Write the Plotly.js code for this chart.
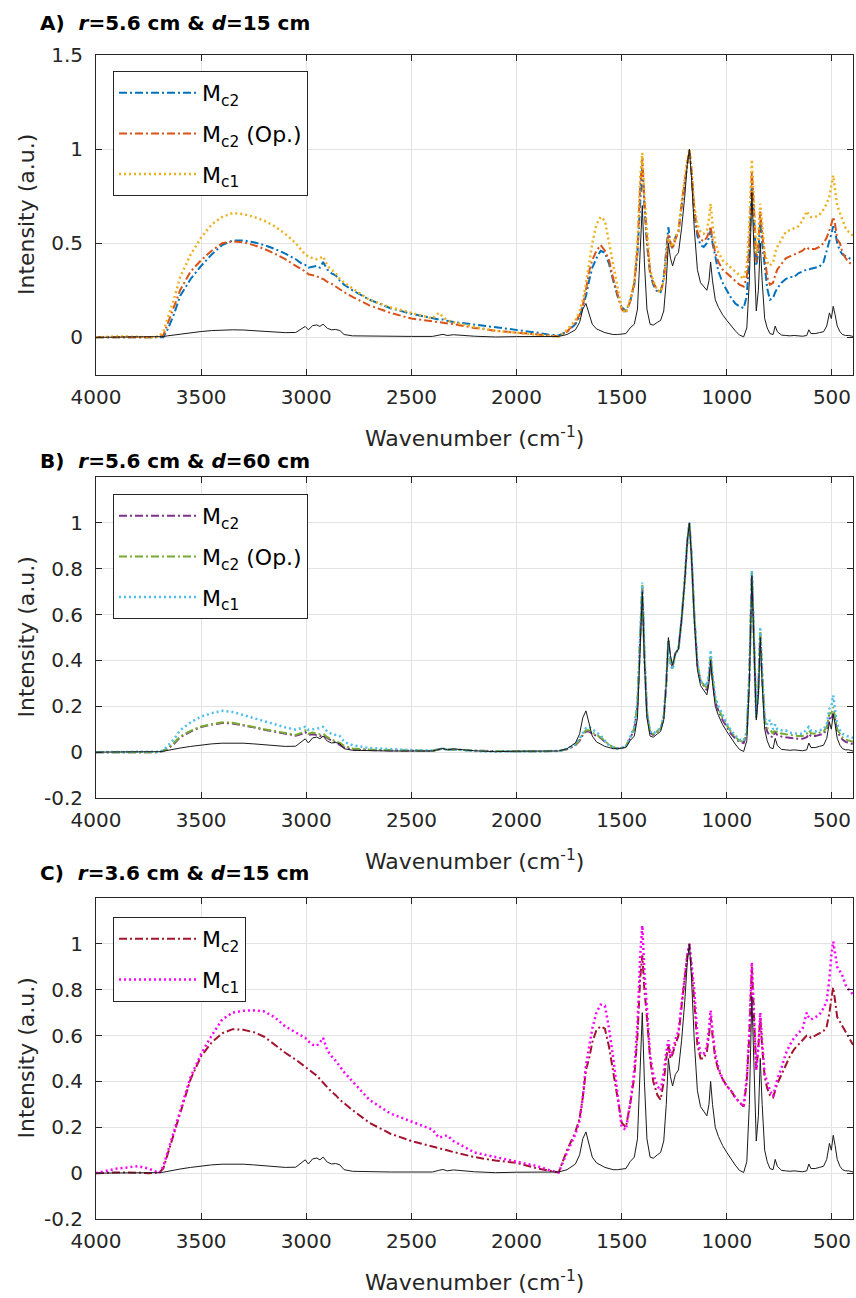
<!DOCTYPE html>
<html><head><meta charset="utf-8">
<script src="https://cdn.plot.ly/plotly-3.0.1.min.js"></script>
<style>html,body{margin:0;padding:0;background:#fff}#chart{width:856px;height:1298px}</style>
</head><body><div id="chart"></div>
<script>
const wavenumber = [
4000,3900,3800,3750,3700,3680,3660,3630,3600,3550,
3500,3450,3400,3350,3300,3250,3200,3150,3100,3050,
3020,3005,2990,2970,2950,2935,2920,2900,2880,2860,
2840,2820,2780,2700,2600,2500,2400,2370,2350,2330,
2300,2200,2100,2000,1900,1850,1800,1760,1720,1700,
1685,1670,1655,1640,1620,1600,1580,1560,1540,1520,
1500,1480,1460,1440,1425,1412,1402,1392,1380,1365,
1350,1330,1315,1300,1288,1278,1268,1258,1245,1230,
1215,1200,1188,1178,1168,1155,1140,1125,1110,1095,
1085,1077,1068,1055,1040,1020,1000,980,960,940,
920,905,893,881,870,860,850,841,832,820,
808,795,780,770,760,740,720,700,680,660,
640,620,610,600,580,560,540,525,512,503,
494,485,475,462,450,435,420,400];

const reference = [
0,0,0,0,0.002,0.004,0.008,0.013,0.018,0.025,
0.031,0.036,0.039,0.04,0.039,0.036,0.032,0.028,0.025,0.026,
0.045,0.058,0.04,0.062,0.066,0.058,0.07,0.048,0.04,0.042,
0.036,0.015,0.008,0.006,0.005,0.005,0.005,0.012,0.016,0.01,
0.014,0.006,0.002,0.004,0.003,0.003,0.005,0.015,0.04,0.08,
0.15,0.18,0.13,0.07,0.045,0.035,0.025,0.02,0.015,0.015,
0.017,0.02,0.05,0.07,0.15,0.45,0.70,0.4,0.15,0.07,
0.065,0.08,0.09,0.14,0.3,0.5,0.42,0.38,0.43,0.45,
0.58,0.75,0.92,1.0,0.85,0.58,0.36,0.29,0.27,0.25,
0.3,0.4,0.3,0.2,0.16,0.12,0.09,0.06,0.035,0.012,
0.003,0.05,0.3,0.77,0.45,0.14,0.25,0.5,0.3,0.1,
0.05,0.02,0.015,0.06,0.03,0.012,0.01,0.008,0.01,0.008,
0.006,0.01,0.04,0.02,0.02,0.025,0.03,0.06,0.13,0.1,
0.165,0.12,0.06,0.03,0.015,0.01,0.01,0.005];

const panelA_Mc2 = [
0,0,0,0,0,0,0.04,0.12,0.22,0.31,
0.38,0.44,0.49,0.515,0.515,0.505,0.49,0.47,0.445,0.415,
0.39,0.385,0.37,0.375,0.38,0.37,0.4,0.36,0.34,0.33,
0.3,0.28,0.25,0.2,0.155,0.125,0.1,0.095,0.095,0.088,
0.082,0.068,0.055,0.04,0.025,0.015,0.01,0.03,0.07,0.11,
0.16,0.22,0.3,0.37,0.42,0.46,0.45,0.39,0.3,0.22,
0.16,0.14,0.19,0.28,0.45,0.75,0.92,0.7,0.5,0.34,
0.28,0.24,0.24,0.32,0.45,0.585,0.5,0.47,0.53,0.56,
0.7,0.82,0.94,1.0,0.88,0.66,0.54,0.49,0.48,0.5,
0.53,0.57,0.5,0.42,0.35,0.29,0.25,0.21,0.18,0.165,
0.155,0.22,0.45,0.82,0.62,0.38,0.45,0.62,0.5,0.38,
0.26,0.2,0.21,0.24,0.26,0.29,0.31,0.32,0.32,0.34,
0.35,0.36,0.36,0.365,0.37,0.375,0.4,0.46,0.5,0.55,
0.59,0.56,0.5,0.46,0.44,0.43,0.42,0.41];

const panelA_Mc2Op = [
0,0.002,0,0,0.003,0.01,0.07,0.16,0.25,0.35,
0.41,0.46,0.5,0.51,0.505,0.49,0.47,0.445,0.415,0.38,
0.36,0.35,0.335,0.33,0.325,0.315,0.31,0.295,0.285,0.27,
0.255,0.24,0.215,0.17,0.13,0.1,0.085,0.08,0.08,0.075,
0.07,0.05,0.035,0.025,0.015,0.008,0.005,0.03,0.08,0.12,
0.17,0.25,0.35,0.41,0.46,0.49,0.46,0.41,0.31,0.23,
0.15,0.13,0.19,0.29,0.47,0.8,0.95,0.72,0.52,0.35,
0.29,0.25,0.24,0.3,0.42,0.55,0.5,0.47,0.52,0.56,
0.7,0.82,0.94,1.0,0.88,0.68,0.56,0.52,0.51,0.53,
0.56,0.59,0.52,0.45,0.4,0.36,0.34,0.32,0.3,0.28,
0.27,0.32,0.5,0.88,0.66,0.4,0.5,0.67,0.55,0.42,
0.32,0.28,0.29,0.33,0.36,0.39,0.42,0.43,0.44,0.45,
0.46,0.48,0.47,0.47,0.47,0.48,0.5,0.53,0.57,0.6,
0.64,0.6,0.52,0.5,0.45,0.42,0.4,0.38];

const panelA_Mc1 = [
0,0.005,0.003,0,0.005,0.03,0.1,0.2,0.32,0.44,
0.53,0.6,0.64,0.66,0.655,0.64,0.62,0.59,0.55,0.5,
0.46,0.44,0.43,0.42,0.415,0.42,0.43,0.38,0.36,0.34,
0.31,0.29,0.26,0.2,0.16,0.13,0.1,0.13,0.11,0.09,
0.08,0.055,0.035,0.025,0.012,0.006,0.003,0.04,0.09,0.14,
0.2,0.28,0.38,0.5,0.6,0.64,0.62,0.5,0.37,0.25,
0.15,0.13,0.2,0.3,0.5,0.85,0.98,0.75,0.55,0.36,
0.3,0.25,0.24,0.3,0.42,0.53,0.5,0.48,0.53,0.57,
0.72,0.84,0.95,1.0,0.9,0.7,0.6,0.56,0.55,0.57,
0.63,0.71,0.6,0.5,0.45,0.41,0.39,0.37,0.35,0.33,
0.31,0.38,0.6,0.945,0.7,0.45,0.55,0.71,0.6,0.45,
0.4,0.38,0.4,0.45,0.48,0.52,0.56,0.57,0.58,0.59,
0.62,0.67,0.65,0.64,0.64,0.65,0.68,0.71,0.75,0.8,
0.86,0.78,0.7,0.66,0.62,0.58,0.56,0.54];

const panelB_Mc2 = [
0,0,0,0,0,0.005,0.015,0.035,0.065,0.09,
0.11,0.12,0.127,0.125,0.118,0.108,0.098,0.09,0.08,0.072,
0.08,0.088,0.075,0.078,0.075,0.07,0.074,0.06,0.05,0.042,
0.03,0.02,0.012,0.009,0.007,0.006,0.005,0.012,0.015,0.01,
0.012,0.006,0.004,0.004,0.004,0.004,0.005,0.012,0.03,0.05,
0.075,0.09,0.09,0.08,0.072,0.062,0.045,0.03,0.02,0.016,
0.018,0.025,0.06,0.1,0.2,0.5,0.72,0.42,0.17,0.085,
0.075,0.09,0.1,0.15,0.3,0.49,0.4,0.37,0.43,0.45,
0.58,0.75,0.92,1.0,0.86,0.6,0.38,0.31,0.29,0.27,
0.32,0.41,0.32,0.22,0.18,0.14,0.11,0.08,0.06,0.045,
0.04,0.08,0.32,0.78,0.46,0.15,0.27,0.52,0.33,0.13,
0.09,0.07,0.065,0.09,0.075,0.068,0.065,0.062,0.06,0.058,
0.058,0.065,0.08,0.07,0.07,0.075,0.08,0.1,0.15,0.14,
0.17,0.14,0.09,0.07,0.055,0.045,0.04,0.035];

const panelB_Mc2Op = [
0,0,0,0,0,0.006,0.018,0.04,0.068,0.093,
0.112,0.122,0.13,0.128,0.12,0.11,0.1,0.092,0.082,0.075,
0.085,0.095,0.08,0.085,0.08,0.078,0.08,0.065,0.055,0.048,
0.04,0.028,0.016,0.011,0.008,0.007,0.006,0.013,0.016,0.011,
0.012,0.006,0.004,0.004,0.004,0.004,0.005,0.013,0.032,0.055,
0.08,0.095,0.095,0.085,0.075,0.065,0.048,0.032,0.021,0.016,
0.018,0.025,0.062,0.105,0.21,0.51,0.73,0.43,0.175,0.088,
0.078,0.092,0.102,0.155,0.3,0.49,0.39,0.365,0.43,0.45,
0.58,0.75,0.92,1.0,0.86,0.6,0.385,0.31,0.295,0.28,
0.33,0.42,0.33,0.23,0.19,0.15,0.118,0.088,0.066,0.05,
0.045,0.085,0.33,0.785,0.47,0.155,0.275,0.53,0.34,0.14,
0.105,0.1,0.08,0.1,0.085,0.08,0.078,0.075,0.072,0.07,
0.07,0.08,0.095,0.082,0.08,0.085,0.09,0.11,0.17,0.17,
0.196,0.15,0.1,0.08,0.065,0.055,0.05,0.045];

const panelB_Mc1 = [
0,0,0,0,0.002,0.008,0.025,0.055,0.095,0.13,
0.155,0.17,0.18,0.175,0.162,0.148,0.135,0.122,0.108,0.098,
0.105,0.11,0.097,0.1,0.1,0.105,0.11,0.09,0.08,0.075,
0.07,0.045,0.03,0.018,0.012,0.009,0.007,0.013,0.016,0.01,
0.012,0.005,0.002,0.003,0.003,0.003,0.005,0.015,0.035,0.06,
0.085,0.105,0.11,0.1,0.085,0.073,0.05,0.03,0.02,0.016,
0.018,0.025,0.065,0.11,0.22,0.52,0.74,0.44,0.18,0.09,
0.08,0.095,0.105,0.16,0.3,0.48,0.38,0.36,0.43,0.45,
0.58,0.75,0.92,1.0,0.86,0.6,0.39,0.31,0.3,0.29,
0.35,0.445,0.34,0.24,0.2,0.16,0.125,0.095,0.072,0.055,
0.05,0.09,0.34,0.79,0.48,0.16,0.28,0.546,0.35,0.15,
0.12,0.14,0.1,0.12,0.1,0.095,0.095,0.085,0.082,0.08,
0.08,0.1,0.11,0.095,0.09,0.095,0.1,0.12,0.19,0.2,
0.248,0.18,0.12,0.095,0.08,0.072,0.068,0.062];

const panelC_Mc2 = [
0,0.003,0.002,0,0.002,0.02,0.08,0.17,0.27,0.41,
0.51,0.57,0.61,0.628,0.625,0.615,0.595,0.56,0.525,0.495,
0.475,0.465,0.455,0.44,0.425,0.41,0.395,0.375,0.355,0.34,
0.32,0.305,0.275,0.22,0.172,0.14,0.118,0.11,0.105,0.1,
0.092,0.07,0.055,0.045,0.02,0.01,0.003,0.1,0.18,0.24,
0.33,0.45,0.5,0.57,0.625,0.64,0.63,0.55,0.43,0.33,
0.22,0.2,0.3,0.42,0.6,0.85,0.95,0.8,0.68,0.5,
0.4,0.34,0.32,0.4,0.5,0.56,0.5,0.52,0.56,0.6,
0.73,0.85,0.95,1.0,0.9,0.75,0.56,0.5,0.5,0.53,
0.6,0.68,0.6,0.5,0.45,0.41,0.38,0.36,0.33,0.31,
0.29,0.4,0.6,0.9,0.65,0.45,0.55,0.68,0.55,0.42,
0.37,0.34,0.33,0.36,0.39,0.43,0.47,0.51,0.54,0.56,
0.58,0.6,0.6,0.59,0.6,0.61,0.62,0.64,0.7,0.76,
0.81,0.75,0.68,0.66,0.64,0.62,0.59,0.56];

const panelC_Mc1 = [
0,0.02,0.03,0.02,0,0.03,0.09,0.18,0.28,0.42,
0.52,0.6,0.67,0.7,0.708,0.71,0.705,0.68,0.64,0.615,
0.6,0.59,0.575,0.56,0.555,0.57,0.59,0.535,0.51,0.49,
0.465,0.44,0.4,0.32,0.26,0.225,0.19,0.155,0.16,0.165,
0.14,0.09,0.07,0.05,0.03,0.015,0.003,0.09,0.17,0.23,
0.33,0.47,0.55,0.63,0.7,0.735,0.73,0.63,0.5,0.36,
0.2,0.19,0.3,0.45,0.65,0.95,1.08,0.88,0.72,0.52,
0.43,0.38,0.36,0.44,0.53,0.58,0.51,0.53,0.58,0.62,
0.74,0.86,0.95,1.0,0.9,0.8,0.6,0.52,0.52,0.55,
0.63,0.71,0.62,0.52,0.46,0.41,0.38,0.36,0.33,0.31,
0.29,0.42,0.62,0.92,0.65,0.45,0.55,0.7,0.57,0.43,
0.4,0.36,0.335,0.38,0.41,0.46,0.52,0.56,0.59,0.61,
0.63,0.7,0.68,0.67,0.68,0.69,0.72,0.75,0.85,0.95,
1.01,0.95,0.9,0.88,0.86,0.82,0.8,0.78];

const xTickVals = [4000,3500,3000,2500,2000,1500,1000,500];
const xTickText = ['4000','3500','3000','2500','2000','1500','1000','500'];
const yTickValsA = [0,0.5,1,1.5];
const yTickTextA = ['0','0.5','1','1.5'];
const yTickValsBC = [-0.2,0,0.2,0.4,0.6,0.8,1];
const yTickTextBC = ['-0.2','0','0.2','0.4','0.6','0.8','1'];
const panelTitles = [
  '<b>A)\u00a0\u00a0<i>r</i>=5.6 cm &amp; <i>d</i>=15 cm</b>',
  '<b>B)\u00a0\u00a0<i>r</i>=5.6 cm &amp; <i>d</i>=60 cm</b>',
  '<b>C)\u00a0\u00a0<i>r</i>=3.6 cm &amp; <i>d</i>=15 cm</b>'];
const nameMc2 = 'M<sub>c2</sub>';
const nameMc2Op = 'M<sub>c2</sub> (Op.)';
const nameMc1 = 'M<sub>c1</sub>';

const DASHDOT = '8px,3px,2px,3px';
const DOT = '2px,3px';
const FONT = 'DejaVu Sans, Arial, sans-serif';
const TXT = '#262626';

function series(y, name, color, dash, width, n, legendId, show, group) {
  return {
    type: 'scatter', mode: 'lines', x: wavenumber, y: y, name: name,
    line: {color: color, dash: dash, width: width},
    xaxis: n === 1 ? 'x' : 'x' + n, yaxis: n === 1 ? 'y' : 'y' + n,
    legend: legendId, showlegend: show, legendgroup: group, hoverinfo: 'skip'
  };
}

const traces = [
  series(panelA_Mc2, nameMc2, '#0072BD', DASHDOT, 2, 1, 'legend', true, 'a1'),
  series(panelA_Mc2Op, nameMc2Op, '#D95319', DASHDOT, 2, 1, 'legend', true, 'a2'),
  series(panelA_Mc1, nameMc1, '#EDB120', DOT, 2.5, 1, 'legend', true, 'a3'),
  series(reference, 'ref', '#1a1a1a', 'solid', 1, 1, 'legend', false, 'a0'),
  series(panelB_Mc2, nameMc2, '#7E2F8E', DASHDOT, 2, 2, 'legend2', true, 'b1'),
  series(panelB_Mc2Op, nameMc2Op, '#77AC30', DASHDOT, 2, 2, 'legend2', true, 'b2'),
  series(panelB_Mc1, nameMc1, '#4DBEEE', DOT, 2.5, 2, 'legend2', true, 'b3'),
  series(reference, 'ref', '#1a1a1a', 'solid', 1, 2, 'legend2', false, 'b0'),
  series(panelC_Mc2, nameMc2, '#A2142F', DASHDOT, 2, 3, 'legend3', true, 'c1'),
  series(panelC_Mc1, nameMc1, '#FF00FF', DOT, 2.5, 3, 'legend3', true, 'c3'),
  series(reference, 'ref', '#1a1a1a', 'solid', 1, 3, 'legend3', false, 'c0')
];

const H = 1298, W = 856;
const xDom = [96 / W, 853 / W];
function yDom(top, bottom) { return [1 - bottom / H, 1 - top / H]; }
const panels = [
  {top: 55, bottom: 375, range: [-0.2, 1.5], tv: yTickValsA, tt: yTickTextA},
  {top: 477, bottom: 798, range: [-0.2, 1.2], tv: yTickValsBC, tt: yTickTextBC},
  {top: 898, bottom: 1219, range: [-0.2, 1.2], tv: yTickValsBC, tt: yTickTextBC}
];

const layout = {
  width: W, height: H, margin: {l: 0, r: 0, t: 0, b: 0},
  paper_bgcolor: '#ffffff', plot_bgcolor: '#ffffff',
  font: {family: FONT, color: TXT, size: 20},
  showlegend: true, annotations: []
};

panels.forEach((p, i) => {
  const n = i + 1;
  const xk = n === 1 ? 'xaxis' : 'xaxis' + n;
  const yk = n === 1 ? 'yaxis' : 'yaxis' + n;
  const ya = n === 1 ? 'y' : 'y' + n;
  const xa = n === 1 ? 'x' : 'x' + n;
  layout[xk] = {
    domain: xDom, anchor: ya, range: [4000, 400], autorange: false,
    tickmode: 'array', tickvals: xTickVals, ticktext: xTickText,
    ticks: 'inside', ticklen: 6, tickcolor: TXT, tickwidth: 1,
    showline: true, linecolor: TXT, linewidth: 1, mirror: 'ticks',
    showgrid: true, gridcolor: '#e3e3e3', gridwidth: 1, zeroline: false,
    tickfont: {family: FONT, size: 20, color: TXT}, ticklabelstandoff: 4
  };
  layout[yk] = {
    domain: yDom(p.top, p.bottom), anchor: xa, range: p.range, autorange: false,
    tickmode: 'array', tickvals: p.tv, ticktext: p.tt,
    ticks: 'inside', ticklen: 6, tickcolor: TXT, tickwidth: 1,
    showline: true, linecolor: TXT, linewidth: 1, mirror: 'ticks',
    showgrid: true, gridcolor: '#e3e3e3', gridwidth: 1, zeroline: false,
    tickfont: {family: FONT, size: 20, color: TXT}, ticklabelstandoff: 8
  };
  const legKey = n === 1 ? 'legend' : 'legend' + n;
  const legTop = [71, 494, 917][i];
  layout[legKey] = {
    x: 113 / W, y: 1 - legTop / H, xanchor: 'left', yanchor: 'top',
    bgcolor: '#ffffff', bordercolor: TXT, borderwidth: 1,
    font: {family: FONT, size: 22, color: '#000000'},
    itemwidth: 78, tracegroupgap: 9, traceorder: 'grouped'
  };
  const midY = (p.top + p.bottom) / 2;
  layout.annotations.push({
    text: 'Intensity (a.u.)', xref: 'paper', yref: 'paper',
    x: 26 / W, y: 1 - midY / H, xanchor: 'center', yanchor: 'middle',
    textangle: -90, showarrow: false, font: {family: FONT, size: 22, color: TXT}
  });
  layout.annotations.push({
    text: 'Wavenumber (cm<sup>-1</sup>)', xref: 'paper', yref: 'paper',
    x: 474.5 / W, y: 1 - (p.bottom + 62) / H, xanchor: 'center', yanchor: 'middle',
    showarrow: false, font: {family: FONT, size: 22, color: TXT}
  });
  layout.annotations.push({
    text: panelTitles[i], xref: 'paper', yref: 'paper',
    x: 38 / W, y: 1 - [23, 461, 873][i] / H, xanchor: 'left', yanchor: 'middle',
    showarrow: false, font: {family: FONT, size: 20, color: '#000000'}
  });
});

Plotly.newPlot('chart', traces, layout, {staticPlot: true, displayModeBar: false});
</script>
</body></html>
